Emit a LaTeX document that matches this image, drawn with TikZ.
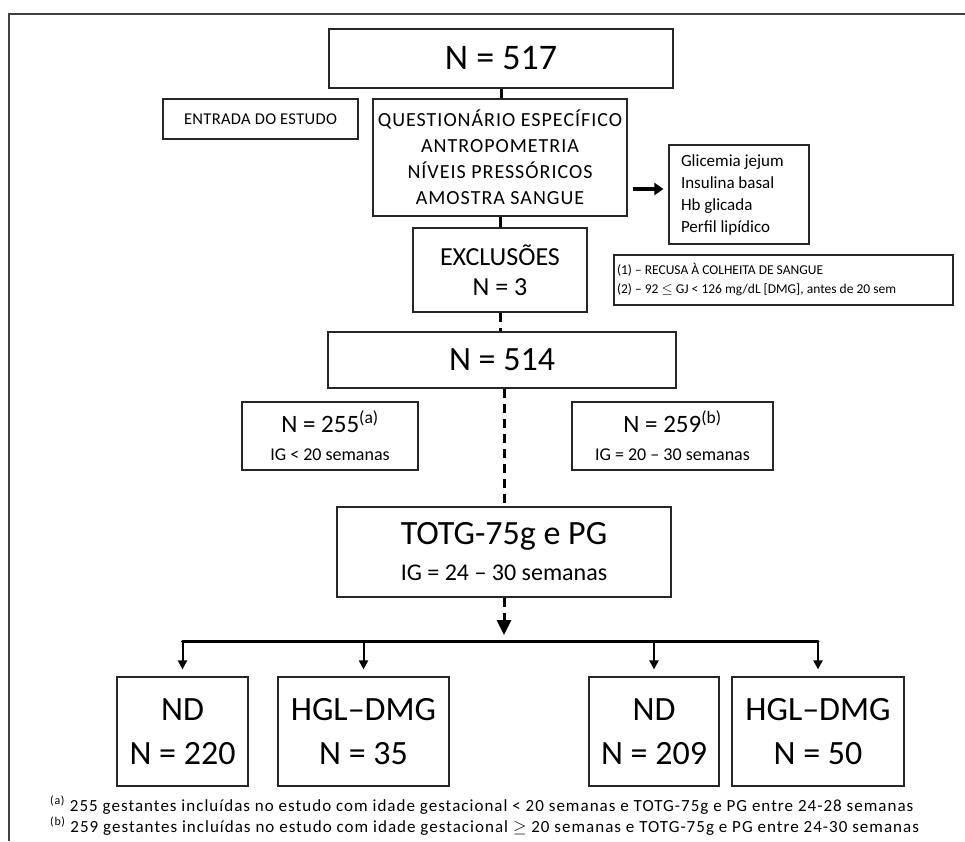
\documentclass[tikz,border=0pt]{standalone}
\usepackage{fontspec}
\setmainfont{Carlito}
\usetikzlibrary{arrows.meta}
\newcommand{\fs}[2]{\fontsize{#1}{#2}\selectfont}
\begin{document}
\begin{tikzpicture}[
  x=1pt, y=-1pt,
  box/.style={draw=black!85, line width=1.2pt, inner sep=0pt, align=center},
  link/.style={line width=3pt},
  dashlink/.style={line width=3pt, dash pattern=on 9pt off 6pt},
  drop/.style={line width=2pt, -{Triangle[length=9pt,width=9pt]}}
]
\useasboundingbox (0,0) rectangle (965,841);
% frame of the figure
\draw[line width=1.5pt, black!75] (9,841) -- (9,14) -- (965,14);

% top of the flow
\node[box, minimum width=344pt, minimum height=59pt, font=\fs{36}{40}] (n517) at (501,58.5) {N = 517};
\node[box, minimum width=195pt, minimum height=40pt, font=\fs{16.5}{19}\addfontfeatures{LetterSpace=2}] (entrada) at (260.5,119) {ENTRADA DO ESTUDO};
\node[box, minimum width=254pt, minimum height=117pt, font=\fs{20}{26}\addfontfeatures{LetterSpace=5}] (quest) at (500,157.5)
  {QUESTIONÁRIO ESPECÍFICO\\ANTROPOMETRIA\\NÍVEIS PRESSÓRICOS\\AMOSTRA SANGUE};
\node[box, minimum width=140pt, minimum height=99pt, text width=116pt, align=flush left, font=\fs{17}{22}] (blood) at (739,194.5)
  {Glicemia jejum\\Insulina basal\\Hb glicada\\Perfil lipídico};
\node[box, minimum width=174pt, minimum height=84pt, font=\fs{26}{30}] (excl) at (500,270) {EXCLUSÕES\\N = 3};
\node[box, minimum width=339pt, minimum height=50pt, text width=333pt, align=flush left, font=\fs{13.5}{19}] (note) at (783.5,280)
  {(1) – RECUSA À COLHEITA DE SANGUE\\(2) – 92 $\le$ GJ < 126 mg/dL [DMG], antes de 20 sem};

% middle of the flow
\node[box, minimum width=348pt, minimum height=56pt, font=\fs{34}{38}] (n514) at (502,360) {N = 514};
\node[box, minimum width=176pt, minimum height=68pt, font=\fs{25}{28}] (n255) at (330,436)
  {N = 255\textsuperscript{(a)}\\{\fs{18}{22}IG < 20 semanas}};
\node[box, minimum width=201pt, minimum height=68pt, font=\fs{25}{28}] (n259) at (672.5,436)
  {N = 259\textsuperscript{(b)}\\{\fs{18}{22}IG = 20 – 30 semanas}};
\node[box, minimum width=334pt, minimum height=90pt, font=\fs{34}{36}] (totg) at (504,552)
  {TOTG-75g e PG\\{\fs{24}{30}IG = 24 – 30 semanas}};

% outcome boxes
\node[box, minimum width=131pt, minimum height=109pt, font=\fs{34}{44}] (nd1) at (182.5,731.5) {ND\\N = 220};
\node[box, minimum width=171pt, minimum height=109pt, font=\fs{34}{44}] (hgl1) at (363.5,731.5) {HGL–DMG\\N = 35};
\node[box, minimum width=130pt, minimum height=109pt, font=\fs{34}{44}] (nd2) at (654,731.5) {ND\\N = 209};
\node[box, minimum width=172pt, minimum height=109pt, font=\fs{34}{44}] (hgl2) at (818,731.5) {HGL–DMG\\N = 50};

% footnotes
\node[anchor=west, inner sep=0pt, font=\fs{17}{18}\addfontfeatures{LetterSpace=6}] (fna) at (50,805)
  {\textsuperscript{(a)} 255 gestantes incluídas no estudo com idade gestacional < 20 semanas e TOTG-75g e PG entre 24-28 semanas};
\node[anchor=west, inner sep=0pt, font=\fs{17}{18}\addfontfeatures{LetterSpace=6}] (fnb) at (50,826)
  {\textsuperscript{(b)} 259 gestantes incluídas no estudo com idade gestacional $\ge$ 20 semanas e TOTG-75g e PG entre 24-30 semanas};

% connectors
\draw[link] (n517.south) -- (n517.south |- quest.north);
\draw[link] (quest.south) -- (quest.south |- excl.north);
\draw[dashlink] (excl.south) -- (excl.south |- n514.north);
\draw[dashlink] (totg.north |- n514.south) -- (totg.north);
\coordinate (qa) at ([xshift=5pt,yshift=-31.5pt]quest.east);
\draw[line width=4pt, -{Triangle[length=9pt,width=12pt]}] (qa) -- ([xshift=-5pt]qa -| blood.west);
\coordinate (bus) at (504,641);
\draw[dashlink, -{Triangle[length=15pt,width=14pt]}] (totg.south) -- ([yshift=6pt]bus);
\draw[line width=3pt, line cap=round] (nd1.north |- bus) -- (hgl2.north |- bus);
\draw[drop] (nd1.north |- bus) -- ([yshift=7pt]nd1.north);
\draw[drop] (hgl1.north |- bus) -- ([yshift=7pt]hgl1.north);
\draw[drop] (nd2.north |- bus) -- ([yshift=7pt]nd2.north);
\draw[drop] (hgl2.north |- bus) -- ([yshift=7pt]hgl2.north);
\end{tikzpicture}
\end{document}
